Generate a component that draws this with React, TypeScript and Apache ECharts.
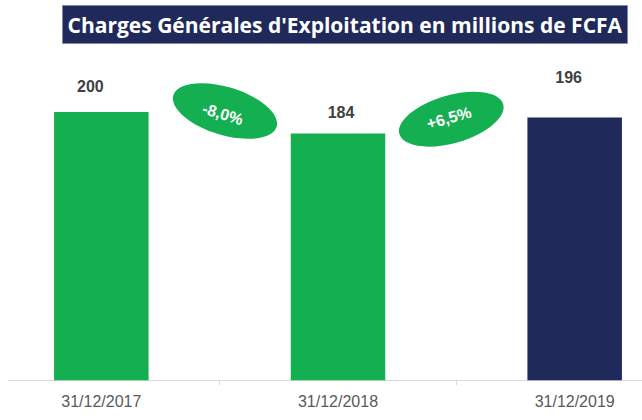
import React, { useEffect, useRef } from "react";
import * as echarts from "echarts";

const categories = ["31/12/2017", "31/12/2018", "31/12/2019"];
const values = [200, 184, 196];
const changeLabels = ["-8,0%", "+6,5%"];
const titleText = "Charges Générales d'Exploitation en millions de FCFA";

const GREEN = "#13AF50";
const NAVY = "#1F2A5B";
const barColors = [GREEN, GREEN, NAVY];
const labelDistances = [18, 12.6, 31.6];
const labelOffsetsX = [-11, 3, -6];

const SANS = "'Liberation Sans', Arial, sans-serif";
// the chart canvas is shifted left so the first category starts off-page
const OFF = 17;
const CANVAS_W = 710;

export default function App() {
  const ref = useRef<HTMLDivElement>(null);
  useEffect(() => {
    if (!ref.current) return;
    const chart = echarts.init(ref.current, null, { renderer: "svg" });
    const deg = Math.PI / 180;
    const bubbles = [
      { cx: 225, cy: 111, tx: 222.7, ty: 114, rot: -17 * deg, text: changeLabels[0] },
      { cx: 451.3, cy: 119.2, tx: 449, ty: 118, rot: 16 * deg, text: changeLabels[1] },
    ];
    chart.setOption({
      animation: false,
      grid: { left: 0, right: 0, top: 85.3, bottom: 39.7, containLabel: false },
      xAxis: {
        type: "category",
        data: categories,
        axisLine: { show: false },
        axisTick: { show: true, alignWithLabel: false, length: 5, lineStyle: { color: "#D9D9D9" } },
        axisLabel: {
          margin: 13,
          fontSize: 16,
          lineHeight: 16,
          color: "#595959",
          fontFamily: SANS,
        },
      },
      yAxis: {
        type: "value",
        min: 0,
        max: 220,
        show: false,
        splitLine: { show: false },
      },
      series: [
        {
          type: "bar",
          barWidth: 94.5,
          data: values.map((v, i) => ({
            value: v,
            itemStyle: { color: barColors[i] },
            label: { distance: labelDistances[i], offset: [labelOffsetsX[i], 0] },
          })),
          label: {
            show: true,
            position: "top",
            fontSize: 16,
            lineHeight: 16,
            fontWeight: "bold",
            color: "#404040",
            fontFamily: SANS,
          },
        },
      ],
      graphic: [
        {
          type: "line",
          shape: { x1: 8 + OFF, y1: 380.5, x2: 642 + OFF, y2: 380.5 },
          style: { stroke: "#D9D9D9", lineWidth: 1 },
          z: 1,
        },
        {
          type: "rect",
          shape: { x: 62.5 + OFF, y: 5.5, width: 565, height: 38 },
          style: { fill: NAVY, stroke: "#7F8AAE", lineWidth: 1 },
        },
        {
          type: "text",
          x: 344.8 + OFF,
          y: 24.5,
          style: {
            text: titleText,
            align: "center",
            verticalAlign: "middle",
            fill: "#FFFFFF",
            fontSize: 21,
            fontWeight: "bold",
            fontFamily: "'Open Sans', Lato, sans-serif",
          },
        },
        ...bubbles.flatMap((b) => [
          {
            type: "ellipse",
            x: b.cx + OFF,
            y: b.cy,
            rotation: b.rot,
            shape: { cx: 0, cy: 0, rx: 54, ry: 24 },
            style: { fill: GREEN },
          },
          {
            type: "text",
            x: b.tx + OFF,
            y: b.ty,
            rotation: b.rot,
            style: {
              text: b.text,
              align: "center",
              verticalAlign: "middle",
              fill: "#FFFFFF",
              fontSize: 16,
              fontWeight: "bold",
              fontFamily: SANS,
            },
          },
        ]),
      ],
    });
    return () => chart.dispose();
  }, []);
  return (
    <div
      ref={ref}
      style={{
        position: "fixed",
        left: -OFF,
        top: 0,
        width: CANVAS_W,
        height: 420,
        background: "#fff",
      }}
    />
  );
}
